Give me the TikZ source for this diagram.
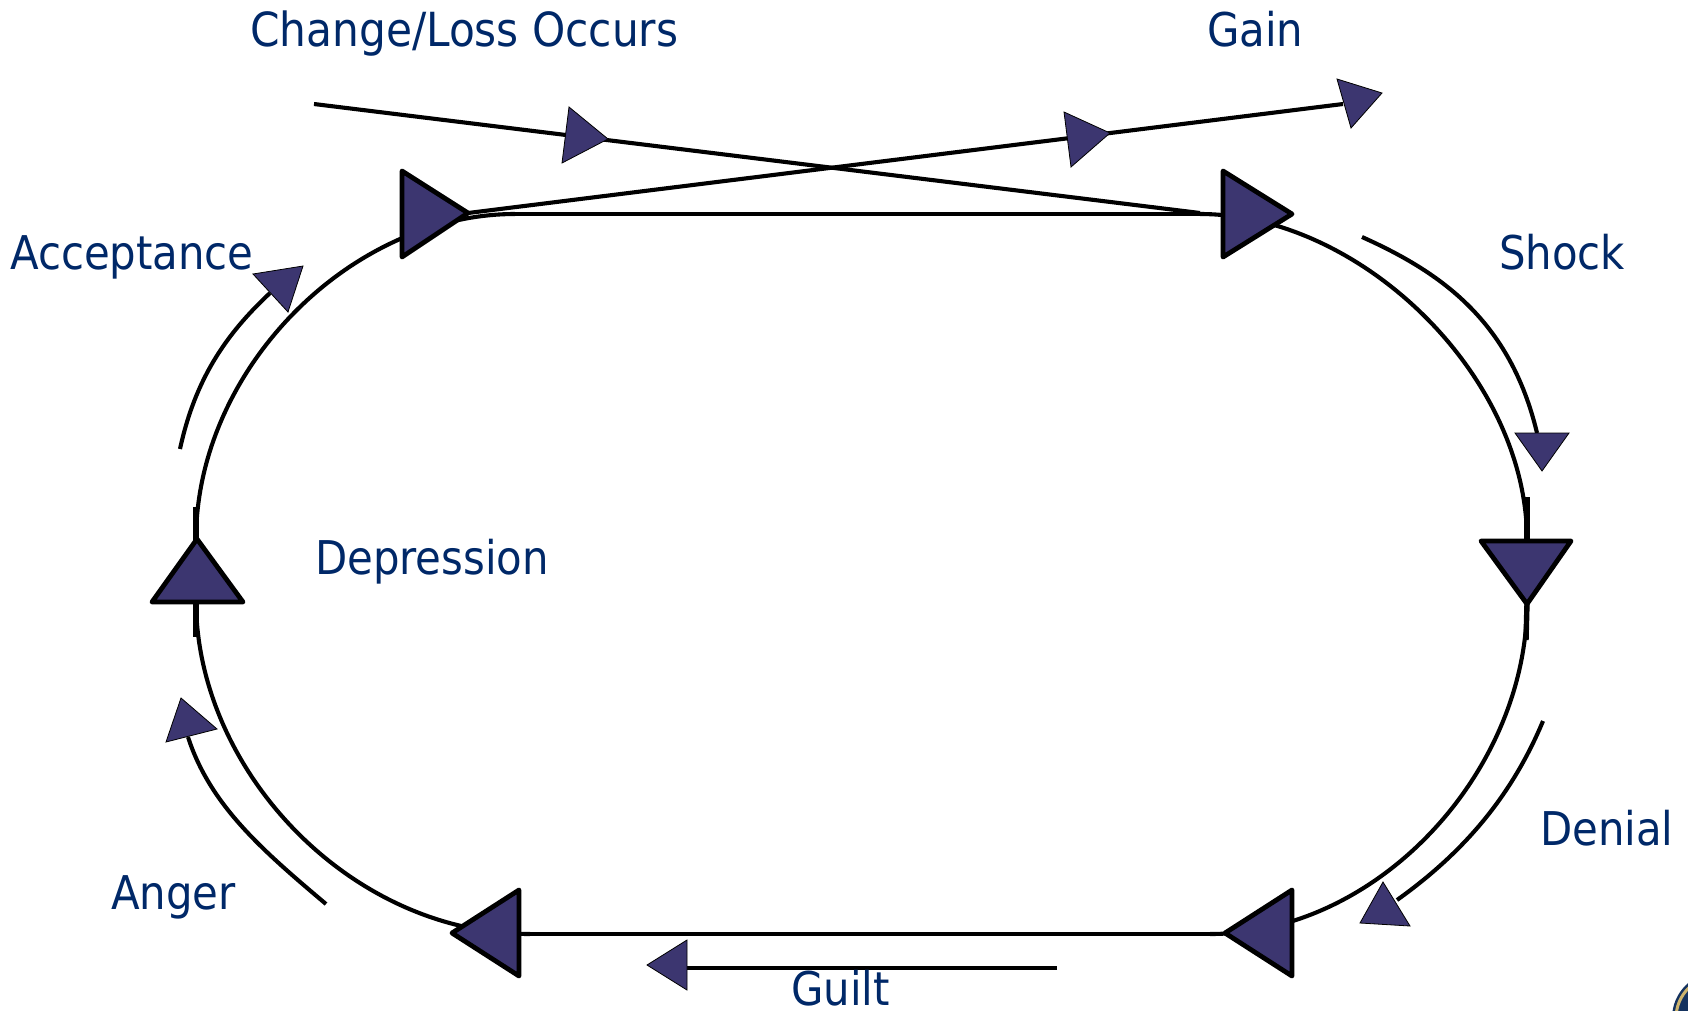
\documentclass[tikz,border=0pt]{standalone}
\usepackage{fontspec}
\setmainfont{DejaVu Sans Condensed}
\usetikzlibrary{calc}
\definecolor{labelblue}{RGB}{0,40,104}
\definecolor{trifill}{RGB}{60,54,112}
\definecolor{sealgold}{RGB}{205,180,110}
\definecolor{sealblue}{RGB}{20,50,95}
\tikzset{
    loopline/.style={line width=4.1pt},
    stubline/.style={line width=5.4pt},
    bigtri/.style={draw=black,fill=trifill,line width=4.8pt,line join=round},
    smalltri/.style={draw=black,fill=trifill,line width=0.8pt},
    stage/.style={anchor=base west,inner sep=0pt,text=labelblue,font=\fontsize{46.5}{50}\selectfont}
}

\begin{document}
\begin{tikzpicture}[x=1pt,y=-1pt]
    \useasboundingbox (0,0) rectangle (1688,1010);

    % corners of the loop
    \coordinate (TL) at (515,214);
    \coordinate (TR) at (1200,214);
    \coordinate (RU) at (1527,540);
    \coordinate (RD) at (1527,603);
    \coordinate (BR) at (1210,934);
    \coordinate (BL) at (530,934);
    \coordinate (LD) at (196,600);
    \coordinate (LU) at (196,540);

    % free ends of the thin arrows
    \coordinate (C) at (314,104);
    \coordinate (D) at (1200,213);
    \coordinate (E) at (468,213);
    \coordinate (F) at (1343,104);
    \coordinate (G) at (1362,237);
    \coordinate (H) at (1537,433);
    \coordinate (I) at (1543,721);
    \coordinate (J) at (1397,900);
    \coordinate (K) at (1057,968);
    \coordinate (L) at (687,968);
    \coordinate (M) at (326,904);
    \coordinate (N) at (188,737);
    \coordinate (P) at (180,449);
    \coordinate (Q) at (270,293);

    % the loop
    \draw[loopline] (TL) -- (TR);
    \draw[loopline] (TR) .. controls (1360,214) and (1527,375) .. (RU);
    \draw[loopline] (RD) .. controls (1527,770) and (1380,934) .. (BR);
    \draw[loopline] (BR) -- (BL);
    \draw[loopline] (BL) .. controls (350,934) and (196,770) .. (LD);
    \draw[loopline] (LU) .. controls (196,370) and (350,214) .. (TL);
    \draw[stubline] (1527,497) -- (RU);
    \draw[stubline] (RD) -- (1526,640);
    \draw[stubline] (196,507) -- (LU);
    \draw[stubline] (LD) -- (196,637);

    % thin arrows
    \draw[loopline] (C) -- (D);
    \draw[loopline] (E) -- (F);
    \draw[loopline] (G) .. controls (1440,272) and (1510,320) .. (H);
    \draw[loopline] (I) .. controls (1510,800) and (1460,855) .. (J);
    \draw[loopline] (K) -- (L);
    \draw[loopline] (M) .. controls (262,850) and (210,805) .. (N);
    \draw[loopline] (P) .. controls (195,380) and (225,335) .. (Q);

    % big triangles on the loop
    \draw[bigtri] (402,171) -- (468,213) -- (402,257) -- cycle;
    \draw[bigtri] (1223,171) -- (1292,214) -- (1223,257) -- cycle;
    \draw[bigtri] (1481,541) -- (1571,541) -- (1527,604) -- cycle;
    \draw[bigtri] (1292,890) -- (1292,976) -- (1225,933) -- cycle;
    \draw[bigtri] (519,890) -- (519,976) -- (452,933) -- cycle;
    \draw[bigtri] (152,602) -- (243,602) -- (197,539) -- cycle;

    % small triangles
    \draw[smalltri] (569,107) -- (608,139) -- (562,163) -- cycle;
    \draw[smalltri] (1064,112) -- (1110,133) -- (1071,167) -- cycle;
    \draw[smalltri] (1337,79) -- (1382,93) -- (1351,128) -- cycle;
    \draw[smalltri] (1515,433) -- (1569,433) -- (1542,471) -- cycle;
    \draw[smalltri] (1383,882) -- (1360,923) -- (1410,926) -- cycle;
    \draw[smalltri] (647,965) -- (687,940) -- (687,990) -- cycle;
    \draw[smalltri] (181,698) -- (166,742) -- (217,729) -- cycle;
    \draw[smalltri] (303,266) -- (253,274) -- (288,312) -- cycle;

    % seal in the corner
    \fill[sealblue] (1718,1018) circle (46);
    \draw[sealgold,line width=3pt] (1718,1018) circle (42);

    \node[stage,font=\fontsize{47}{50}\selectfont] (change) at (250,46) {Change/Loss Occurs};
    \node[stage] (gain) at (1207,46) {Gain};
    \node[stage] (acceptance) at (10,269) {Acceptance};
    \node[stage] (shock) at (1499,269) {Shock};
    \node[stage] (depression) at (315,574) {Depression};
    \node[stage] (denial) at (1540,845) {Denial};
    \node[stage] (anger) at (111,909) {Anger};
    \node[stage] (guilt) at (791,1005) {Guilt};
\end{tikzpicture}
\end{document}
